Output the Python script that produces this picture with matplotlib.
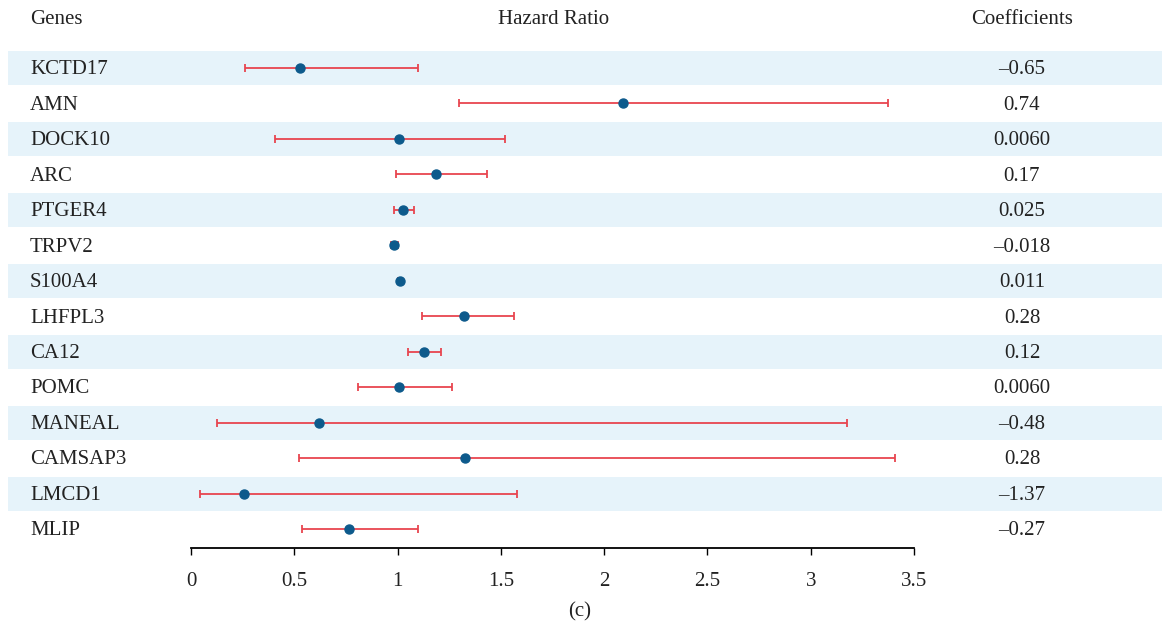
import numpy as np
import matplotlib
matplotlib.use('Agg')
import matplotlib.pyplot as plt
from matplotlib.patches import Rectangle
from matplotlib.transforms import blended_transform_factory

plt.rcParams['font.family'] = ['Liberation Serif', 'DejaVu Serif']

# данные
genes = ['KCTD17', 'AMN', 'DOCK10', 'ARC', 'PTGER4', 'TRPV2', 'S100A4',
         'LHFPL3', 'CA12', 'POMC', 'MANEAL', 'CAMSAP3', 'LMCD1', 'MLIP']
hr = [0.527, 2.09, 1.006, 1.187, 1.025, 0.982, 1.011,
      1.323, 1.127, 1.006, 0.62, 1.324, 0.255, 0.765]
hr_low = [0.261, 1.295, 0.406, 0.991, 0.981, 0.967, 1.0,
          1.117, 1.049, 0.807, 0.126, 0.522, 0.044, 0.536]
hr_high = [1.097, 3.374, 1.518, 1.431, 1.078, 1.0, 1.022,
           1.566, 1.208, 1.262, 3.174, 3.407, 1.576, 1.10]
coefs = ['\u20130.65', '0.74', '0.0060', '0.17', '0.025', '\u20130.018', '0.011',
         '0.28', '0.12', '0.0060', '\u20130.48', '0.28', '\u20131.37', '\u20130.27']
xticks = [0, 0.5, 1, 1.5, 2, 2.5, 3, 3.5]
xticklabels = ['0', '0.5', '1', '1.5', '2', '2.5', '3', '3.5']

W, H = 1162, 631
fs = 15
tc = '#222222'
fig = plt.figure(figsize=(W / 100, H / 100), dpi=100)
ax = fig.add_axes([191 / W, 1 - 548 / H, 723 / W, (548 - 50.3) / H])

rows = np.arange(len(genes))
ax.set_ylim(13.536, -0.5)
ax.set_xlim(0, 3.5)

# полосы фона
tr = blended_transform_factory(fig.transFigure, ax.transData)
for r in rows[::2]:
    ax.add_patch(Rectangle((8 / W, r - 0.48), 1 - 8 / W, 0.96, transform=tr,
                           facecolor='#e6f3fa', edgecolor='none', clip_on=False, zorder=0))

hr_a = np.array(hr)
xerr = [hr_a - np.array(hr_low), np.array(hr_high) - hr_a]
ax.errorbar(hr_a, rows, xerr=xerr, fmt='none', ecolor='#e8454f', elinewidth=1.3,
            capsize=3, capthick=1.3, zorder=2, clip_on=False)
ax.plot(hr_a, rows, 'o', color='#0d5a8c', markersize=6.5, zorder=3, clip_on=False)

# подписи
for r, g, c in zip(rows, genes, coefs):
    ax.text(30 / W, r + 0.05, g, transform=tr, ha='left', va='center', fontsize=fs, color=tc)
    ax.text(1022 / W, r + 0.05, c, transform=tr, ha='center', va='center', fontsize=fs, color=tc)

fig.text(30 / W, 1 - 19.5 / H, 'Genes', ha='left', va='center', fontsize=fs, color=tc)
fig.text(554 / W, 1 - 19.5 / H, 'Hazard Ratio', ha='center', va='center', fontsize=fs, color=tc)
fig.text(1022 / W, 1 - 19.5 / H, 'Coefficients', ha='center', va='center', fontsize=fs, color=tc)
fig.text(580 / W, 1 - 612 / H, '(c)', ha='center', va='center', fontsize=fs, color=tc)

# оси
for s in ['top', 'right', 'left']:
    ax.spines[s].set_visible(False)
ax.spines['bottom'].set_linewidth(1.3)
ax.set_yticks([])
ax.set_xticks(xticks)
ax.set_xticklabels(xticklabels)
ax.tick_params(axis='x', direction='out', length=5, width=1, labelsize=fs, pad=12,
               labelcolor=tc)
ax.patch.set_visible(False)

fig.savefig('out.png', dpi=100)
